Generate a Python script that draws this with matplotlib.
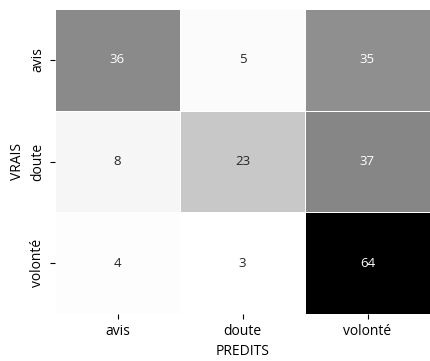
import matplotlib
matplotlib.use("Agg")
import matplotlib.pyplot as plt
import numpy as np
import seaborn as sns

classes = ["avis", "doute", "volonté"]
row_avis = [36, 5, 35]
row_doute = [8, 23, 37]
row_volonte = [4, 3, 64]

plt.rcParams['font.family'] = ['Open Sans', 'DejaVu Sans']

matrix = np.array([row_avis, row_doute, row_volonte])

fig = plt.figure(figsize=(4.30, 3.61), dpi=100)
ax = fig.add_axes([55/430, 47/361, 375/430, 305/361])
sns.heatmap(matrix, annot=True, fmt="d", cmap="Greys", cbar=False,
            linewidths=0.4, linecolor="white",
            xticklabels=classes, yticklabels=classes, ax=ax,
            annot_kws={"fontsize": 9.5})
ax.set_xlabel("PREDITS", fontsize=10)
ax.set_ylabel("VRAIS", fontsize=10)
ax.tick_params(labelsize=10)
fig.savefig("out.png", dpi=100)
